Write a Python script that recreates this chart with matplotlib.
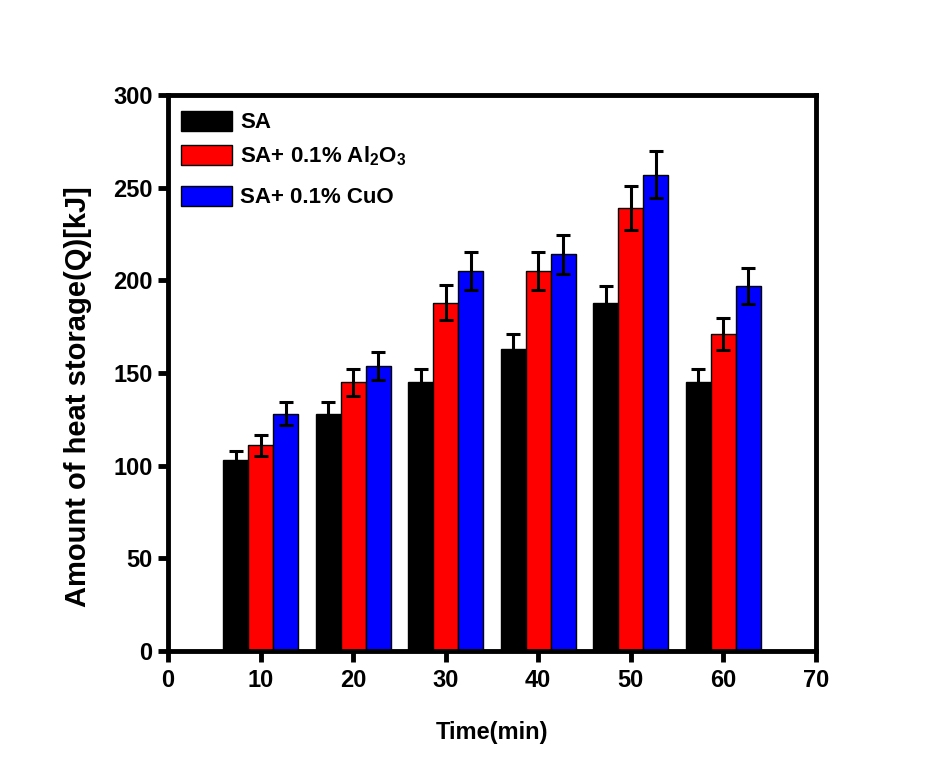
import matplotlib
matplotlib.use("Agg")
import matplotlib.pyplot as plt
import numpy as np

plt.rcParams['font.family'] = ['Liberation Sans', 'DejaVu Sans']
plt.rcParams['font.weight'] = 'bold'
plt.rcParams['mathtext.fontset'] = 'custom'
plt.rcParams['mathtext.rm'] = 'Liberation Sans:bold'
plt.rcParams['mathtext.it'] = 'Liberation Sans:bold'
plt.rcParams['mathtext.bf'] = 'Liberation Sans:bold'

# Heating time (min) and stored heat per sample
times = [10, 20, 30, 40, 50, 60]
series_labels = ["SA", r"SA+ 0.1% Al$_2$O$_3$", "SA+ 0.1% CuO"]
q_sa = [103, 128, 145, 163, 188, 145]
q_al2o3 = [111, 145, 188, 205, 239, 171]
q_cuo = [128, 154, 205, 214, 257, 197]
err_sa = [5.0, 6.5, 7.2, 8.0, 9.2, 7.2]
err_al2o3 = [5.5, 7.3, 9.4, 10.3, 12.0, 8.5]
err_cuo = [6.3, 7.6, 10.2, 10.7, 12.8, 9.8]
xticks = [0, 10, 20, 30, 40, 50, 60, 70]
yticks = [0, 50, 100, 150, 200, 250, 300]

colors = ["#000000", "#ff0000", "#0000ff"]
bar_w = 2.7

fig = plt.figure(figsize=(9.29, 7.71), dpi=100)
ax = fig.add_axes([0.1808, 0.1556, 0.6975, 0.7211])

x = np.array(times, dtype=float)
values = [q_sa, q_al2o3, q_cuo]
errors = [err_sa, err_al2o3, err_cuo]
handles = []
for i, (vals, errs, col, lab) in enumerate(zip(values, errors, colors, series_labels)):
    bc = ax.bar(x + (i - 1) * bar_w, vals, width=bar_w, color=col,
                edgecolor="black", linewidth=1.0, label=lab,
                yerr=errs, error_kw=dict(ecolor="black", elinewidth=2.2,
                                         capsize=5, capthick=2.2), zorder=2)
    handles.append(bc)

ax.set_xlim(0, 70)
ax.set_ylim(0, 300)
ax.set_xticks(xticks)
ax.set_yticks(yticks)

for sp in ax.spines.values():
    sp.set_linewidth(3.5)

ax.tick_params(axis="both", which="major", direction="out", width=3.5,
               labelsize=17, top=False, right=False)
ax.tick_params(axis="x", length=8, pad=5)
ax.tick_params(axis="y", length=7, pad=4)
for t in ax.get_xticklabels() + ax.get_yticklabels():
    t.set_fontweight("bold")

ax.set_xlabel("Time(min)", fontsize=17, fontweight="bold", labelpad=21)
ax.set_ylabel("Amount of heat storage(Q)[kJ]", fontsize=21, fontweight="bold")
ax.yaxis.set_label_coords(-0.118, 0.457)

# legend split in two so the subscripted entry gets extra room below it
leg_kw = dict(frameon=False, handlelength=2.3, handleheight=1.0,
              handletextpad=0.35, labelspacing=0.52, borderaxespad=0.1,
              prop={"weight": "bold", "size": 16})
leg1 = ax.legend(handles[:2], series_labels[:2], loc="upper left",
                 bbox_to_anchor=(0.003, 0.992), **leg_kw)
ax.add_artist(leg1)
ax.legend(handles[2:], series_labels[2:], loc="center left",
          bbox_to_anchor=(0.003, 0.8165), **leg_kw)

fig.savefig("out.png", dpi=100)
